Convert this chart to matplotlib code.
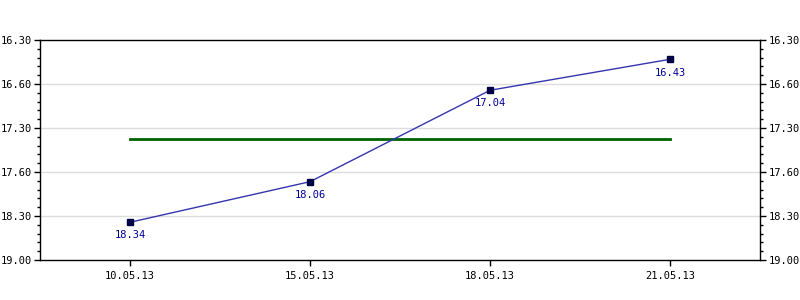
import matplotlib
matplotlib.use("Agg")
import matplotlib.pyplot as plt
from matplotlib.ticker import AutoMinorLocator

dates = ["10.05.13", "15.05.13", "18.05.13", "21.05.13"]
# plotted positions (axis scale 16.3..19.0)
y_pos = [18.537, 18.039, 16.917, 16.537]
point_labels = ["18.34", "18.06", "17.04", "16.43"]
avg_level = 17.511
ytick_pos = [16.30, 16.84, 17.38, 17.92, 18.46, 19.00]
ytick_labels = ["16.30", "16.60", "17.30", "17.60", "18.30", "19.00"]

fig = plt.figure(figsize=(8, 3), dpi=100)
ax = fig.add_axes([40/800, 40/300, 720/800, 220/300])
x = list(range(len(dates)))

ax.plot(x, y_pos, color="#3535b0", lw=1, zorder=3)
ax.plot(x, y_pos, ls="none", marker="s", ms=4.5, mfc="#000044", mec="#000044", zorder=4)
ax.plot([x[0], x[-1]], [avg_level, avg_level], color="#006400", lw=2, zorder=2)

for xi, yi, lab in zip(x, y_pos, point_labels):
    ax.annotate(lab, (xi, yi), xytext=(0, -9.5), textcoords="offset points",
                ha="center", va="center", color="#000099",
                family="DejaVu Sans Mono", fontsize=7.5)

ax.set_xlim(-0.5, len(dates) - 0.5)
ax.set_ylim(19.0, 16.3)
ax.set_xticks(x)
ax.set_xticklabels(dates, family="DejaVu Sans Mono", fontsize=7.5)
ax.set_yticks(ytick_pos)
ax.set_yticklabels(ytick_labels, family="DejaVu Sans Mono", fontsize=7.5)
ax.yaxis.set_minor_locator(AutoMinorLocator(5))
ax.tick_params(axis="y", which="major", length=4, width=1, direction="out",
               left=True, right=True, labelleft=True, labelright=True, pad=2)
ax.tick_params(axis="y", which="minor", length=2.5, width=1, direction="out",
               left=True, right=True)
ax.tick_params(axis="x", which="major", length=4, width=1, direction="out", pad=4)

for yt in ytick_pos[1:-1]:
    ax.axhline(yt, color="#dddddd", lw=1, zorder=1)

for s in ax.spines.values():
    s.set_color("black")
    s.set_linewidth(1)

fig.savefig("out.png", dpi=100)
